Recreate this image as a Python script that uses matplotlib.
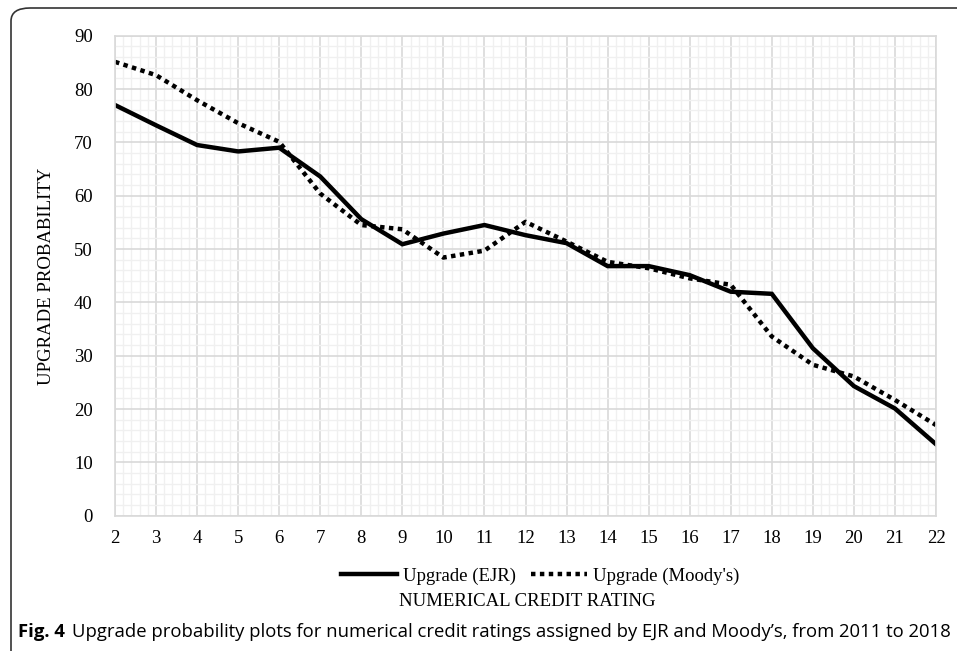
import numpy as np
import matplotlib
matplotlib.use("Agg")
import matplotlib.pyplot as plt
from matplotlib.patches import FancyBboxPatch
from matplotlib.ticker import MultipleLocator

# notations numériques
ratings = list(range(2, 23))
# probabilités de hausse
ejr = [77.0, 73.2, 69.5, 68.3, 69.0, 63.6, 55.6, 50.9, 52.9, 54.5, 52.6,
       51.1, 46.8, 46.8, 45.1, 42.0, 41.6, 31.4, 24.3, 20.1, 13.4]
moodys = [85.1, 82.6, 77.9, 73.6, 70.1, 60.4, 54.5, 53.7, 48.4, 49.7, 55.1,
          51.4, 47.6, 46.4, 44.5, 43.3, 33.6, 28.3, 26.1, 21.7, 17.0]

serif = ['Liberation Serif', 'DejaVu Serif']
W, H = 957, 651

fig = plt.figure(figsize=(W / 100, H / 100), dpi=100)
ax = fig.add_axes([115 / W, 1 - 515.7 / H, (936 - 115) / W, (515.7 - 35.7) / H])

ax.plot(ratings, ejr, color='black', lw=3.2, solid_joinstyle='miter', label='Upgrade (EJR)')
ax.plot(ratings, moodys, color='black', lw=3.2, linestyle=(0, (1, 1)), label="Upgrade (Moody's)")

ax.set_xlim(2, 22)
ax.set_ylim(0, 90)
ax.xaxis.set_major_locator(MultipleLocator(1))
ax.xaxis.set_minor_locator(MultipleLocator(0.2))
ax.yaxis.set_major_locator(MultipleLocator(10))
ax.yaxis.set_minor_locator(MultipleLocator(2))
ax.grid(which='major', color='#d9d9d9', lw=1.2)
ax.grid(which='minor', color='#f0f0f0', lw=1.0)
ax.set_axisbelow(True)
for s in ax.spines.values():
    s.set_color('#d9d9d9')
    s.set_linewidth(1.2)
ax.tick_params(which='both', length=0)
ax.tick_params(axis='x', pad=10)
ax.tick_params(axis='y', pad=16)
for lab in ax.get_xticklabels() + ax.get_yticklabels():
    lab.set_family(serif)
    lab.set_fontsize(13.5)

fig.text(47 / W, 1 - 276 / H, 'UPGRADE PROBABILITY', rotation=90, ha='center', va='center',
         family=serif, fontsize=13.5)

leg = fig.legend(loc='center', bbox_to_anchor=(540 / W, 1 - 576 / H), ncol=2, frameon=False,
                 prop={'family': serif, 'size': 13.5}, handlelength=3.0, columnspacing=0.8,
                 handletextpad=0.3)

fig.text(527 / W, 1 - 601 / H, 'NUMERICAL CREDIT RATING', ha='center', va='center',
         family=serif, fontsize=13.5)

# légende de la figure, taille ajustée pour tenir jusqu'à x=945
cap_font = ['Open Sans', 'DejaVu Sans']
fig.canvas.draw()
r = fig.canvas.get_renderer()
cap_size = 13
for k in range(2):
    t1 = fig.text(18 / W, 1 - 632 / H, 'Fig. 4', ha='left', va='center', family=cap_font,
                  fontsize=cap_size, fontweight='bold')
    bb = t1.get_window_extent(r)
    t2 = fig.text((bb.x1 + 7) / W, 1 - 632 / H,
                  "Upgrade probability plots for numerical credit ratings assigned by EJR and Moody\u2019s, from 2011 to 2018",
                  ha='left', va='center', family=cap_font, fontsize=cap_size)
    bb2 = t2.get_window_extent(r)
    if k == 0:
        cap_size = cap_size * (945 - 25) / (bb2.x1 - 25)
        t1.remove()
        t2.remove()

# cadre arrondi
frame = FancyBboxPatch((11 / W, -0.2), 1.2, 1 - 8 / H + 0.2, boxstyle='round,pad=0,rounding_size=0.02',
                       transform=fig.transFigure, fill=False, edgecolor='#333333', lw=1.2, clip_on=False)
fig.patches.append(frame)

fig.savefig('out.png', dpi=100)
